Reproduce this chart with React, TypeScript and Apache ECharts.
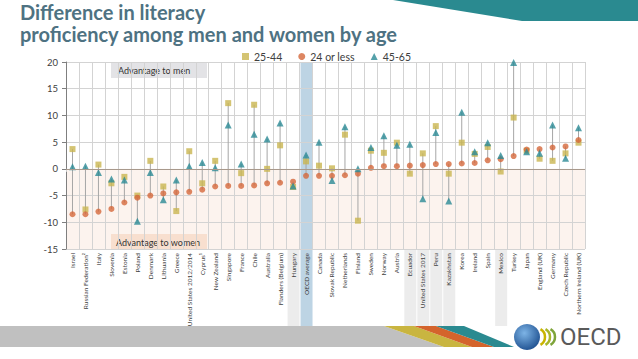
import React, { useEffect, useRef } from "react";
import * as echarts from "echarts";

const categories = [
  "Israel", "Russian Federation²", "Italy", "Slovenia", "Estonia", "Poland", "Denmark", "Lithuania", "Greece",
  "United States 2012/2014", "Cyprus¹", "New Zealand", "Singapore", "France", "Chile", "Australia",
  "Flanders (Belgium)", "Hungary", "OECD average", "Canada", "Slovak Republic", "Netherlands", "Finland",
  "Sweden", "Norway", "Austria", "Ecuador", "United States 2017", "Peru", "Kazakhstan", "Korea", "Ireland",
  "Spain", "Mexico", "Turkey", "Japan", "England (UK)", "Germany", "Czech Republic", "Northern Ireland (UK)",
];

const age2544 = [
  3.7, -7.6, 0.8, -2.7, -1.5, -5.0, 1.5, -3.3, -7.9, 3.3, -2.7, 1.5, 12.3, -0.8, 12.0, 0.0, 4.4, -3.4, 1.4, 0.6,
  0.1, 6.4, -9.7, 3.4, 3.0, 4.9, -0.9, 2.9, 8.0, -0.9, 4.9, 2.8, 4.1, -0.5, 9.6, 3.4, 1.9, 1.5, 2.9, 4.9,
];
const age24 = [
  -8.5, -8.5, -8.0, -7.5, -6.3, -5.4, -5.0, -4.6, -4.4, -4.3, -3.9, -3.3, -3.2, -3.2, -3.1, -2.7, -2.6, -2.4, -1.3, -1.3,
  -1.3, -1.2, -0.9, 0.2, 0.5, 0.5, 0.6, 0.7, 0.9, 0.9, 1.0, 1.1, 1.6, 1.8, 2.4, 3.6, 3.7, 4.0, 4.2, 5.4,
];
const age4565 = [
  0.4, 0.5, -0.7, -1.9, -2.1, -9.8, -0.7, -5.8, -2.1, 0.5, 1.2, 0.2, 8.2, 0.9, 6.5, 5.6, 8.6, -3.2, 2.6, 5.0,
  -2.2, 7.9, 0.0, 4.0, 6.2, 4.4, 4.6, -5.6, 6.8, -6.0, 10.6, 3.2, 4.9, 2.5, 19.9, 3.2, 2.9, 8.2, 2.0, 7.7,
];

const seriesNames = ["25-44", "24 or less", "45-65"];
const titleLines = ["Difference in literacy", "proficiency among men and women by age"];
const advantageMen = "Advantage to men";
const advantageWomen = "Advantage to women";
const logoText = "OECD";
const blueHighlight = ["OECD average"];
const greyHighlight = ["Hungary", "Ecuador", "United States 2017", "Peru", "Kazakhstan", "Mexico"];
const yMin = -15;
const yMax = 20;
const yInterval = 5;

const FONT = "Lato, 'Open Sans', sans-serif";

export default function App() {
  const ref = useRef<HTMLDivElement>(null);

  useEffect(() => {
    if (!ref.current) return;
    const chart = echarts.init(ref.current, null, { renderer: "svg" });

    const bandData = [
      ...blueHighlight.map((n) => [categories.indexOf(n), 1]),
      ...greyHighlight.map((n) => [categories.indexOf(n), 0]),
    ];
    const rangeData = categories.map((_, i) => {
      const vals = [age2544[i], age24[i], age4565[i]];
      return [i, Math.min(...vals), Math.max(...vals)];
    });

    const chevron = (cx: number, color: string) => ({
      type: "arc",
      z: 10,
      silent: true,
      shape: { cx, cy: 337, r: 9, startAngle: -Math.PI / 3, endAngle: Math.PI / 3 },
      style: { stroke: color, lineWidth: 2.5, fill: null },
    });

    const option: any = {
      animation: false,
      backgroundColor: "#ffffff",
      textStyle: { fontFamily: FONT },
      grid: { left: 66, right: 53, top: 62, bottom: 110 },
      legend: {
        data: seriesNames,
        left: 237,
        top: 46,
        itemWidth: 7,
        itemHeight: 7,
        itemGap: 16,
        textStyle: { fontSize: 10.5, color: "#404040", fontFamily: FONT },
      },
      xAxis: {
        type: "category",
        data: categories,
        boundaryGap: true,
        axisLine: { show: true, lineStyle: { color: "#d0d0d0" } },
        axisTick: { show: true, length: 3, lineStyle: { color: "#d0d0d0" } },
        splitLine: { show: true, lineStyle: { color: "#d3d3d3", width: 1 } },
        axisLabel: {
          rotate: 90,
          interval: 0,
          fontSize: 6.5,
          color: "#404040",
          margin: 4,
          fontFamily: FONT,
        },
      },
      yAxis: {
        type: "value",
        min: yMin,
        max: yMax,
        interval: yInterval,
        axisLine: { show: true, lineStyle: { color: "#7f7f7f" } },
        axisTick: { show: true, length: 4, lineStyle: { color: "#7f7f7f" } },
        splitLine: { show: true, lineStyle: { color: "#d3d3d3", width: 1 } },
        axisLabel: { fontSize: 9.5, color: "#404040", margin: 8, fontFamily: FONT },
      },
      series: [
        {
          type: "custom",
          name: "peach",
          z: -2,
          silent: true,
          clip: false,
          data: [[0, 0]],
          renderItem: (params: any, api: any) => {
            const w = api.size([1, 0])[0];
            const x0 = api.coord([0, 0])[0] - w / 2;
            const x1 = api.coord([categories.length - 1, 0])[0] + w / 2;
            const y0 = api.coord([0, 0])[1];
            const y1 = api.coord([0, yMin])[1];
            return {
              type: "rect",
              shape: { x: x0, y: y0, width: x1 - x0, height: y1 - y0 },
              style: { fill: "#fcf3ee" },
            };
          },
        },
        {
          type: "custom",
          name: "bands",
          z: -1,
          silent: true,
          clip: false,
          data: bandData,
          renderItem: (params: any, api: any) => {
            const idx = api.value(0);
            const kind = api.value(1);
            const w = api.size([1, 0])[0];
            const cx = api.coord([idx, 0])[0];
            const yTop = kind ? api.coord([idx, yMax])[1] : api.coord([idx, yMin])[1];
            const yBot = api.coord([idx, yMin])[1] + 77;
            return {
              type: "rect",
              shape: { x: cx - w / 2 + 1, y: yTop, width: w - 1, height: yBot - yTop },
              style: { fill: kind ? "#bdd4e4" : "#ececec" },
            };
          },
        },
        {
          type: "custom",
          name: "range",
          z: 2,
          silent: true,
          data: rangeData,
          encode: { x: 0, y: [1, 2] },
          renderItem: (params: any, api: any) => {
            const i = api.value(0);
            const p1 = api.coord([i, api.value(1)]);
            const p2 = api.coord([i, api.value(2)]);
            return {
              type: "line",
              shape: { x1: p1[0], y1: p1[1], x2: p2[0], y2: p2[1] },
              style: { stroke: "#a6a6a6", lineWidth: 1 },
            };
          },
          markLine: {
            silent: true,
            symbol: "none",
            label: { show: false },
            lineStyle: { color: "#a8998c", width: 1, type: "solid" },
            data: [{ yAxis: 0 }],
          },
        },
        {
          type: "scatter",
          name: seriesNames[0],
          z: 3,
          symbol: "rect",
          symbolSize: 6,
          itemStyle: { color: "#c9b550" },
          data: age2544,
        },
        {
          type: "scatter",
          name: seriesNames[1],
          z: 3,
          symbol: "circle",
          symbolSize: 6,
          itemStyle: { color: "#d4683b" },
          data: age24,
        },
        {
          type: "scatter",
          name: seriesNames[2],
          z: 3,
          symbol: "triangle",
          symbolSize: 7,
          itemStyle: { color: "#2a8a95" },
          data: age4565,
        },
      ],
      graphic: [
        {
          type: "polygon",
          z: 20,
          silent: true,
          shape: { points: [[393, 0], [638, 0], [638, 21], [522, 21]] },
          style: { fill: "#2a8a90" },
        },
        {
          type: "text",
          id: "title",
          x: 20,
          y: 1,
          z: 10,
          style: {
            text: titleLines.join("\n"),
            fontSize: 20,
            lineHeight: 22,
            fontWeight: "bold",
            fontFamily: FONT,
            fill: "#4e7282",
          },
        },
        {
          type: "group",
          left: 111,
          top: 62,
          z: 10,
          children: [
            { type: "rect", shape: { x: 0, y: 0, width: 96, height: 16 }, style: { fill: "#e3e3e6" } },
            {
              type: "text",
              x: 7,
              y: 8,
              style: { text: advantageMen, fontSize: 9, fill: "#333333", fontFamily: FONT, textVerticalAlign: "middle" },
            },
          ],
        },
        {
          type: "group",
          left: 111,
          top: 234,
          z: 10,
          children: [
            { type: "rect", shape: { x: 0, y: 0, width: 96, height: 15 }, style: { fill: "#f8dfcf" } },
            {
              type: "text",
              x: 5,
              y: 8,
              style: { text: advantageWomen, fontSize: 9, fill: "#333333", fontFamily: FONT, textVerticalAlign: "middle" },
            },
          ],
        },
        {
          type: "polygon",
          z: 10,
          silent: true,
          shape: { points: [[0, 326], [384, 326], [444, 347], [0, 347]] },
          style: { fill: "#c0c0c0" },
        },
        {
          type: "polygon",
          z: 10,
          silent: true,
          shape: { points: [[384, 326], [414, 326], [472, 347], [444, 347]] },
          style: { fill: "#c9b540" },
        },
        {
          type: "polygon",
          z: 10,
          silent: true,
          shape: { points: [[414, 326], [436, 326], [494, 347], [472, 347]] },
          style: { fill: "#d4642c" },
        },
        {
          type: "polygon",
          z: 10,
          silent: true,
          shape: { points: [[436, 326], [464, 326], [514, 347], [494, 347]] },
          style: { fill: "#2a8a90" },
        },
        {
          type: "circle",
          z: 10,
          silent: true,
          shape: { cx: 527, cy: 337, r: 13 },
          style: {
            fill: new echarts.graphic.RadialGradient(0.4, 0.35, 0.7, [
              { offset: 0, color: "#7db4e6" },
              { offset: 1, color: "#1d4f8f" },
            ]),
          },
        },
        chevron(536, "#c9b400"),
        chevron(541, "#a8b62a"),
        chevron(546, "#7ea43a"),
        {
          type: "text",
          z: 10,
          x: 560,
          y: 337,
          style: { text: logoText, fontSize: 24, fill: "#5a5a5a", textVerticalAlign: "middle", fontFamily: "Roboto" },
        },
      ],
    };

    chart.setOption(option);
    return () => chart.dispose();
  }, []);

  return <div ref={ref} style={{ position: "absolute", left: 0, top: 0, width: 638, height: 359 }} />;
}
